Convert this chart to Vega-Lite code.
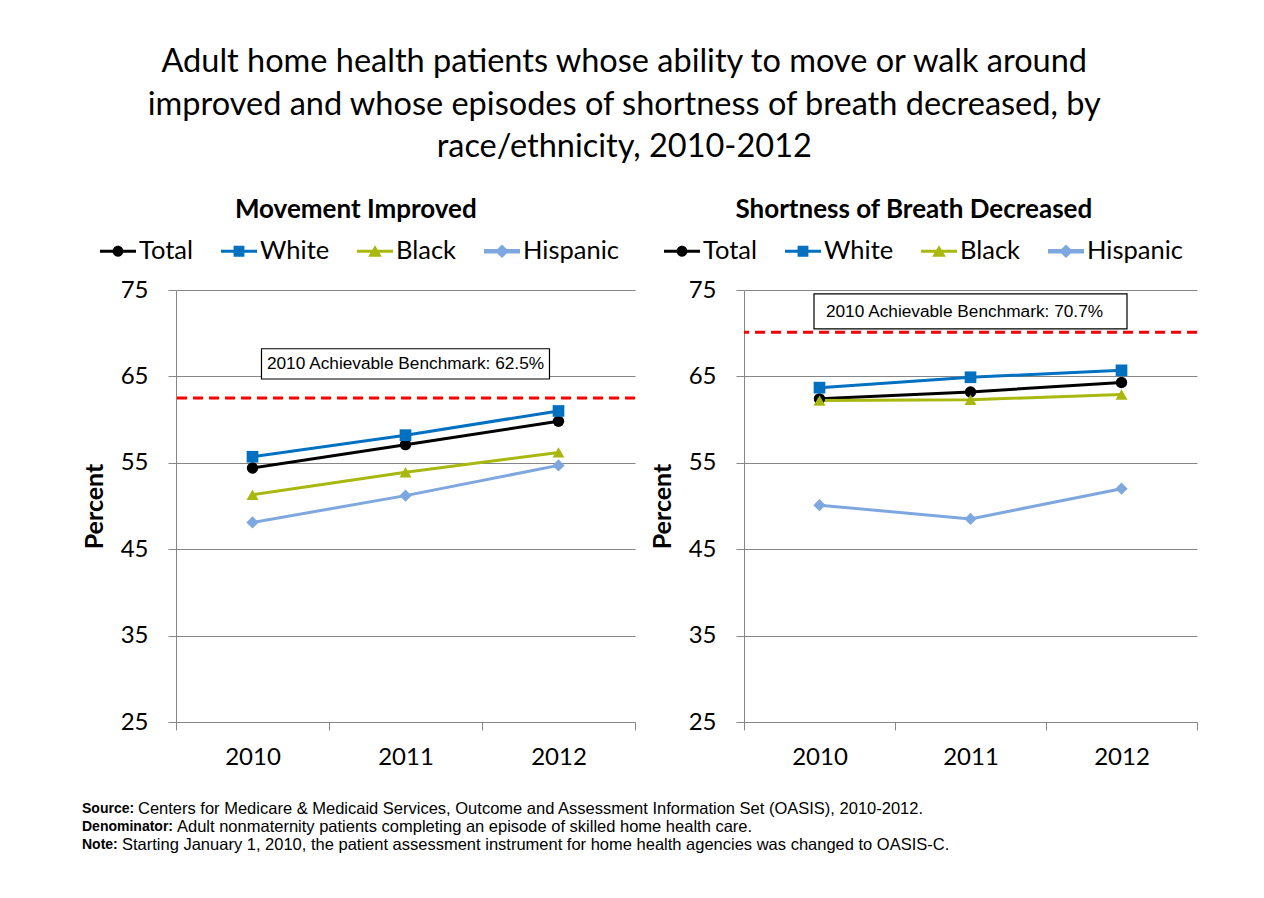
{
  "$schema": "https://vega.github.io/schema/vega-lite/v6.json",
  "padding": {"left": 82, "top": 46, "right": 0, "bottom": 0},
  "background": "white",
  "title": {
    "text": ["Adult home health patients whose ability to move or walk around", "improved and whose episodes of shortness of breath decreased, by", "race/ethnicity, 2010-2012"],
    "font": "Lato", "fontSize": 32.5, "fontWeight": "normal", "lineHeight": 42.5, "color": "black",
    "anchor": "middle", "frame": "bounds", "dx": -16, "offset": 33.5
  },
  "datasets": {
    "movement": [
      {"year": 2010, "race": "Total", "value": 54.4},
      {"year": 2011, "race": "Total", "value": 57.1},
      {"year": 2012, "race": "Total", "value": 59.8},
      {"year": 2010, "race": "White", "value": 55.7},
      {"year": 2011, "race": "White", "value": 58.2},
      {"year": 2012, "race": "White", "value": 61.0},
      {"year": 2010, "race": "Black", "value": 51.3},
      {"year": 2011, "race": "Black", "value": 53.9},
      {"year": 2012, "race": "Black", "value": 56.2},
      {"year": 2010, "race": "Hispanic", "value": 48.1},
      {"year": 2011, "race": "Hispanic", "value": 51.2},
      {"year": 2012, "race": "Hispanic", "value": 54.7}
    ],
    "breath": [
      {"year": 2010, "race": "Total", "value": 62.4},
      {"year": 2011, "race": "Total", "value": 63.2},
      {"year": 2012, "race": "Total", "value": 64.3},
      {"year": 2010, "race": "White", "value": 63.7},
      {"year": 2011, "race": "White", "value": 64.9},
      {"year": 2012, "race": "White", "value": 65.7},
      {"year": 2010, "race": "Black", "value": 62.2},
      {"year": 2011, "race": "Black", "value": 62.3},
      {"year": 2012, "race": "Black", "value": 62.9},
      {"year": 2010, "race": "Hispanic", "value": 50.1},
      {"year": 2011, "race": "Hispanic", "value": 48.5},
      {"year": 2012, "race": "Hispanic", "value": 52.0}
    ],
    "movement_benchmark": [{"value": 62.5, "label": "2010 Achievable Benchmark: 62.5%"}],
    "breath_benchmark": [{"value": 70.1, "label": "2010 Achievable Benchmark: 70.7%"}],
    "notes": [
      {"line": 1, "label": "Source:", "text": "Centers for Medicare & Medicaid Services, Outcome and Assessment Information Set (OASIS),  2010-2012."},
      {"line": 2, "label": "Denominator:", "text": "Adult nonmaternity patients completing an episode of skilled home health care."},
      {"line": 3, "label": "Note:", "text": "Starting January 1, 2010, the patient assessment instrument for home health agencies was changed to OASIS-C."}
    ]
  },
  "vconcat": [
    {
      "hconcat": [
        {
          "width": 459, "height": 432,
          "title": {"text": "Movement Improved", "font": "Lato", "fontSize": 26, "fontWeight": "bold", "color": "black", "anchor": "middle", "frame": "bounds", "offset": 10, "dx": -3.5},
          "layer": [
            {
              "data": {"name": "movement_benchmark"},
              "mark": {"type": "rule", "color": "#FF0000", "strokeWidth": 3, "strokeDash": [10, 6]},
              "encoding": {
                "y": {"field": "value", "type": "quantitative", "title": "Percent", "scale": {"domain": [25, 75], "nice": false, "zero": false}, "axis": {"values": [25, 35, 45, 55, 65, 75]}}
              }
            },
            {
              "data": {"name": "movement_benchmark"},
              "mark": {"type": "rect", "fill": "white", "stroke": "black", "strokeWidth": 1.2, "width": 288},
              "encoding": {
                "x": {"datum": 2011, "type": "ordinal", "title": null, "scale": {"type": "band"}},
                "y": {"datum": 68.2, "type": "quantitative", "title": "Percent", "scale": {"domain": [25, 75], "nice": false, "zero": false}},
                "y2": {"datum": 64.7}
              }
            },
            {
              "data": {"name": "movement_benchmark"},
              "mark": {"type": "text", "font": "Liberation Sans", "fontSize": 17.25, "align": "center", "baseline": "middle", "color": "black"},
              "encoding": {
                "x": {"datum": 2011, "type": "ordinal", "title": null, "scale": {"type": "band"}},
                "y": {"datum": 66.45, "type": "quantitative", "title": "Percent", "scale": {"domain": [25, 75], "nice": false, "zero": false}},
                "text": {"field": "label"}
              }
            },
            {
              "data": {"name": "movement"},
              "mark": {"type": "line"},
              "encoding": {
                "x": {"field": "year", "type": "ordinal", "title": null, "scale": {"type": "band"}},
                "y": {"field": "value", "type": "quantitative", "title": "Percent", "scale": {"domain": [25, 75], "nice": false, "zero": false}, "axis": {"values": [25, 35, 45, 55, 65, 75]}},
                "color": {"field": "race", "type": "nominal", "scale": {"domain": ["Total", "White", "Black", "Hispanic"], "range": ["#000000", "#0070C0", "#A9B80E", "#7DA7DE"]}, "legend": null},
                "strokeWidth": {"field": "race", "type": "nominal", "scale": {"domain": ["Total", "White", "Black", "Hispanic"], "range": [3, 3, 3, 5]}, "legend": null}
              }
            },
            {
              "data": {"name": "movement"},
              "mark": {"type": "point", "filled": true, "opacity": 1},
              "encoding": {
                "x": {"field": "year", "type": "ordinal", "title": null, "scale": {"type": "band"}},
                "y": {"field": "value", "type": "quantitative", "title": "Percent", "scale": {"domain": [25, 75], "nice": false, "zero": false}},
                "color": {"field": "race", "type": "nominal", "scale": {"domain": ["Total", "White", "Black", "Hispanic"], "range": ["#000000", "#0070C0", "#A9B80E", "#7DA7DE"]}, "legend": null},
                "shape": {"field": "race", "type": "nominal", "scale": {"domain": ["Total", "White", "Black", "Hispanic"], "range": ["circle", "square", "triangle-up", "diamond"]}, "legend": null},
                "size": {"field": "race", "type": "nominal", "scale": {"domain": ["Total", "White", "Black", "Hispanic"], "range": [130, 150, 200, 180]}, "legend": null}
              }
            },
            {
              "data": {"name": "movement"},
              "mark": {"type": "point", "filled": true, "opacity": 0},
              "encoding": {
                "x": {"field": "year", "type": "ordinal", "title": null, "scale": {"type": "band"}},
                "y": {"field": "value", "type": "quantitative", "title": "Percent", "scale": {"domain": [25, 75], "nice": false, "zero": false}},
                "color": {"field": "race", "type": "nominal", "scale": {"domain": ["Total", "White", "Black", "Hispanic"], "range": ["#000000", "#0070C0", "#A9B80E", "#7DA7DE"]}, "legend": {"title": null, "orient": "none", "legendX": -76, "legendY": -57, "direction": "horizontal", "columns": 4}},
                "shape": {"field": "race", "type": "nominal", "scale": {"domain": ["Total", "White", "Black", "Hispanic"], "range": [
                  "M-1,-0.08H1V0.08H-1Z M0.3,0A0.3,0.3 0 1,1 -0.3,0A0.3,0.3 0 1,1 0.3,0Z",
                  "M-1,-0.08H1V0.08H-1Z M-0.3,-0.3H0.3V0.3H-0.3Z",
                  "M-1,-0.08H1V0.08H-1Z M0,-0.34L0.38,0.3H-0.38Z",
                  "M-1,-0.13H1V0.13H-1Z M0,-0.38L0.38,0L0,0.38L-0.38,0Z"
                ]}, "legend": {"title": null, "orient": "none", "legendX": -76, "legendY": -57, "direction": "horizontal", "columns": 4}}
              }
            }
          ],
          "resolve": {"scale": {"shape": "independent"}, "legend": {"color": "independent", "shape": "independent", "size": "independent", "strokeWidth": "independent"}}
        },
        {
          "width": 453, "height": 432,
          "title": {"text": "Shortness of Breath Decreased", "font": "Lato", "fontSize": 26, "fontWeight": "bold", "color": "black", "anchor": "middle", "frame": "bounds", "offset": 10, "dx": -10.5},
          "layer": [
            {
              "data": {"name": "breath_benchmark"},
              "mark": {"type": "rule", "color": "#FF0000", "strokeWidth": 3, "strokeDash": [10, 6]},
              "encoding": {
                "y": {"field": "value", "type": "quantitative", "title": "Percent", "scale": {"domain": [25, 75], "nice": false, "zero": false}, "axis": {"values": [25, 35, 45, 55, 65, 75]}}
              }
            },
            {
              "data": {"name": "breath_benchmark"},
              "mark": {"type": "rect", "fill": "white", "stroke": "black", "strokeWidth": 1.2, "width": 313},
              "encoding": {
                "x": {"datum": 2011, "type": "ordinal", "title": null, "scale": {"type": "band"}},
                "y": {"datum": 74.55, "type": "quantitative", "title": "Percent", "scale": {"domain": [25, 75], "nice": false, "zero": false}},
                "y2": {"datum": 70.5}
              }
            },
            {
              "data": {"name": "breath_benchmark"},
              "mark": {"type": "text", "font": "Liberation Sans", "fontSize": 17.25, "align": "center", "baseline": "middle", "color": "black", "dx": -6},
              "encoding": {
                "x": {"datum": 2011, "type": "ordinal", "title": null, "scale": {"type": "band"}},
                "y": {"datum": 72.5, "type": "quantitative", "title": "Percent", "scale": {"domain": [25, 75], "nice": false, "zero": false}},
                "text": {"field": "label"}
              }
            },
            {
              "data": {"name": "breath"},
              "mark": {"type": "line"},
              "encoding": {
                "x": {"field": "year", "type": "ordinal", "title": null, "scale": {"type": "band"}},
                "y": {"field": "value", "type": "quantitative", "title": "Percent", "scale": {"domain": [25, 75], "nice": false, "zero": false}, "axis": {"values": [25, 35, 45, 55, 65, 75]}},
                "color": {"field": "race", "type": "nominal", "scale": {"domain": ["Total", "White", "Black", "Hispanic"], "range": ["#000000", "#0070C0", "#A9B80E", "#7DA7DE"]}, "legend": null},
                "strokeWidth": {"field": "race", "type": "nominal", "scale": {"domain": ["Total", "White", "Black", "Hispanic"], "range": [3, 3, 3, 5]}, "legend": null}
              }
            },
            {
              "data": {"name": "breath"},
              "mark": {"type": "point", "filled": true, "opacity": 1},
              "encoding": {
                "x": {"field": "year", "type": "ordinal", "title": null, "scale": {"type": "band"}},
                "y": {"field": "value", "type": "quantitative", "title": "Percent", "scale": {"domain": [25, 75], "nice": false, "zero": false}},
                "color": {"field": "race", "type": "nominal", "scale": {"domain": ["Total", "White", "Black", "Hispanic"], "range": ["#000000", "#0070C0", "#A9B80E", "#7DA7DE"]}, "legend": null},
                "shape": {"field": "race", "type": "nominal", "scale": {"domain": ["Total", "White", "Black", "Hispanic"], "range": ["circle", "square", "triangle-up", "diamond"]}, "legend": null},
                "size": {"field": "race", "type": "nominal", "scale": {"domain": ["Total", "White", "Black", "Hispanic"], "range": [130, 150, 200, 180]}, "legend": null}
              }
            },
            {
              "data": {"name": "breath"},
              "mark": {"type": "point", "filled": true, "opacity": 0},
              "encoding": {
                "x": {"field": "year", "type": "ordinal", "title": null, "scale": {"type": "band"}},
                "y": {"field": "value", "type": "quantitative", "title": "Percent", "scale": {"domain": [25, 75], "nice": false, "zero": false}},
                "color": {"field": "race", "type": "nominal", "scale": {"domain": ["Total", "White", "Black", "Hispanic"], "range": ["#000000", "#0070C0", "#A9B80E", "#7DA7DE"]}, "legend": {"title": null, "orient": "none", "legendX": -80, "legendY": -57, "direction": "horizontal", "columns": 4}},
                "shape": {"field": "race", "type": "nominal", "scale": {"domain": ["Total", "White", "Black", "Hispanic"], "range": [
                  "M-1,-0.08H1V0.08H-1Z M0.3,0A0.3,0.3 0 1,1 -0.3,0A0.3,0.3 0 1,1 0.3,0Z",
                  "M-1,-0.08H1V0.08H-1Z M-0.3,-0.3H0.3V0.3H-0.3Z",
                  "M-1,-0.08H1V0.08H-1Z M0,-0.34L0.38,0.3H-0.38Z",
                  "M-1,-0.13H1V0.13H-1Z M0,-0.38L0.38,0L0,0.38L-0.38,0Z"
                ]}, "legend": {"title": null, "orient": "none", "legendX": -80, "legendY": -57, "direction": "horizontal", "columns": 4}}
              }
            }
          ],
          "resolve": {"scale": {"shape": "independent"}, "legend": {"color": "independent", "shape": "independent", "size": "independent", "strokeWidth": "independent"}}
        }
      ],
      "spacing": 13,
      "resolve": {"scale": {"color": "independent", "shape": "independent", "size": "independent", "strokeWidth": "independent"}, "legend": {"color": "independent", "shape": "independent", "size": "independent", "strokeWidth": "independent"}}
    },
    {
      "width": 1000, "height": 54,
      "data": {"name": "notes"},
      "layer": [
        {
          "mark": {"type": "text", "align": "left", "baseline": "middle", "font": "Liberation Sans", "fontSize": 14, "fontWeight": "bold", "color": "black", "dx": -94},
          "encoding": {
            "x": {"datum": 0, "type": "quantitative", "scale": {"domain": [0, 1]}, "axis": null},
            "y": {"field": "line", "type": "ordinal", "axis": null},
            "text": {"field": "label"}
          }
        },
        {
          "transform": [{"filter": "datum.line == 1"}],
          "mark": {"type": "text", "align": "left", "baseline": "middle", "font": "Liberation Sans", "fontSize": 16.5, "color": "black", "dx": -38},
          "encoding": {
            "x": {"datum": 0, "type": "quantitative", "scale": {"domain": [0, 1]}, "axis": null},
            "y": {"field": "line", "type": "ordinal", "axis": null},
            "text": {"field": "text"}
          }
        },
        {
          "transform": [{"filter": "datum.line == 2"}],
          "mark": {"type": "text", "align": "left", "baseline": "middle", "font": "Liberation Sans", "fontSize": 16.5, "color": "black", "dx": 1},
          "encoding": {
            "x": {"datum": 0, "type": "quantitative", "scale": {"domain": [0, 1]}, "axis": null},
            "y": {"field": "line", "type": "ordinal", "axis": null},
            "text": {"field": "text"}
          }
        },
        {
          "transform": [{"filter": "datum.line == 3"}],
          "mark": {"type": "text", "align": "left", "baseline": "middle", "font": "Liberation Sans", "fontSize": 16.5, "color": "black", "dx": -54},
          "encoding": {
            "x": {"datum": 0, "type": "quantitative", "scale": {"domain": [0, 1]}, "axis": null},
            "y": {"field": "line", "type": "ordinal", "axis": null},
            "text": {"field": "text"}
          }
        }
      ]
    }
  ],
  "spacing": 31,
  "config": {
    "view": {"stroke": null},
    "scale": {"bandPaddingInner": 0, "bandPaddingOuter": 0},
    "axisX": {"grid": false, "domainColor": "#868686", "tickColor": "#868686", "tickSize": 8, "tickBand": "extent", "labelFont": "Lato", "labelFontSize": 24, "labelColor": "black", "labelPadding": 15, "labelAngle": 0},
    "axisY": {"grid": true, "gridColor": "#868686", "domainColor": "#868686", "tickColor": "#868686", "tickSize": 8, "labelFont": "Lato", "labelFontSize": 24, "labelColor": "black", "labelPadding": 20, "titleFont": "Lato", "titleFontSize": 25, "titleFontWeight": "bold", "titleColor": "black", "titlePadding": 13},
    "legend": {"labelFont": "Lato", "labelFontSize": 25.5, "labelColor": "black", "symbolSize": 1296, "symbolStrokeWidth": 0, "columnPadding": 27, "labelOffset": 3, "symbolOpacity": 1}
  }
}
